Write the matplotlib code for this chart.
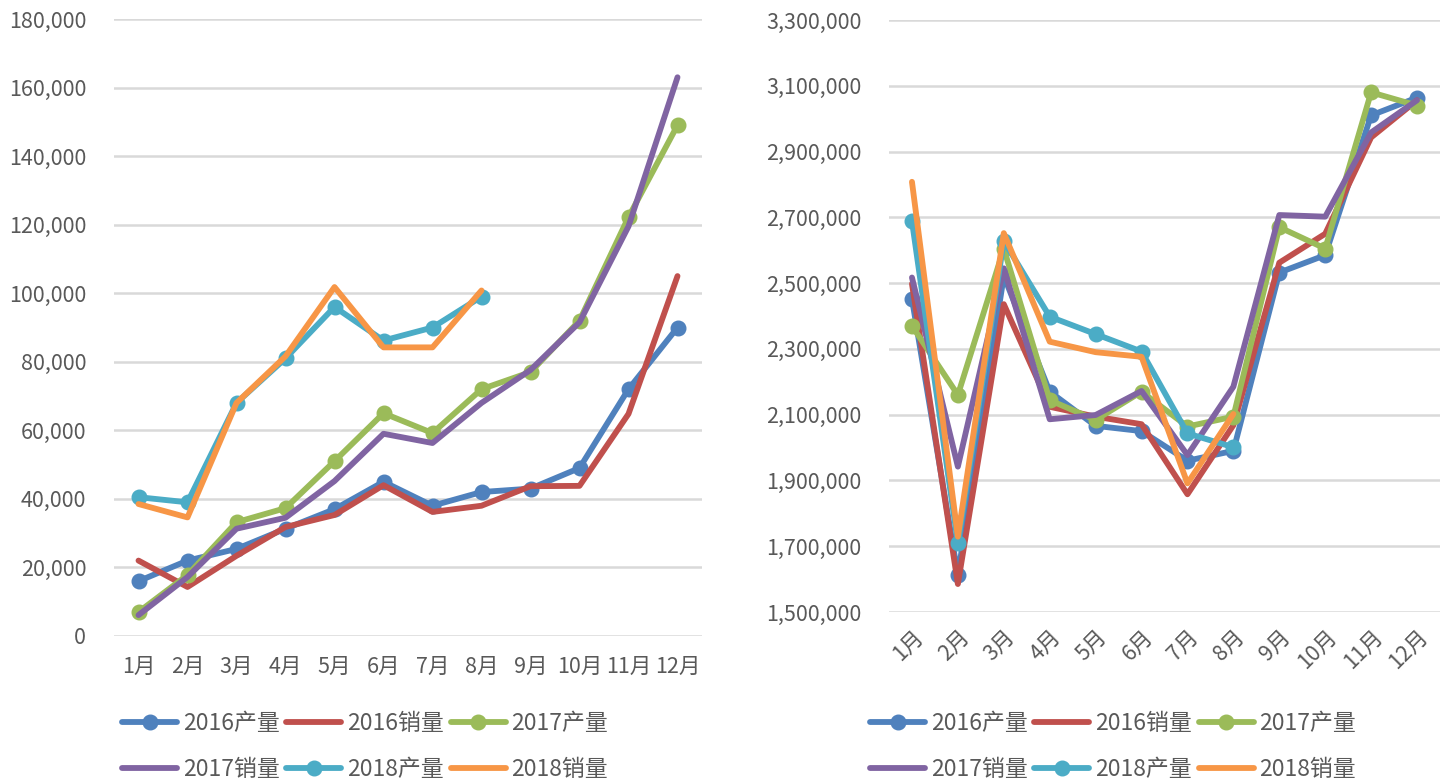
import matplotlib
matplotlib.use('Agg')
import matplotlib.pyplot as plt
from matplotlib.ticker import FuncFormatter
from matplotlib.lines import Line2D

plt.rcParams['font.family'] = ['Noto Sans CJK SC', 'DejaVu Sans']

months = ['1月', '2月', '3月', '4月', '5月', '6月', '7月', '8月', '9月', '10月', '11月', '12月']
series_names = ['2016产量', '2016销量', '2017产量', '2017销量', '2018产量', '2018销量']

# left chart
left_2016_prod = [16000, 22000, 25400, 31300, 37000, 45000, 38000, 42000, 43000, 49000, 72000, 90000]
left_2016_sales = [22000, 14300, 23400, 31800, 35300, 44000, 36200, 38000, 43700, 43800, 64800, 105000]
left_2017_prod = [7000, 17800, 33200, 37300, 51000, 65000, 59200, 72000, 77000, 92000, 122200, 149000]
left_2017_sales = [6100, 17200, 31300, 34500, 45200, 59000, 56300, 68000, 77600, 91500, 119500, 163000]
left_2018_prod = [40500, 39000, 68000, 81000, 96000, 86200, 90000, 99000]
left_2018_sales = [38500, 34600, 68000, 81600, 101800, 84200, 84200, 100800]

# right chart
right_2016_prod = [2452000, 1612000, 2522000, 2170000, 2066000, 2050000, 1960000, 1990000, 2532000, 2585000, 3010000, 3064000]
right_2016_sales = [2498000, 1585000, 2436000, 2124000, 2094000, 2071000, 1858000, 2068000, 2562000, 2650000, 2943000, 3056000]
right_2017_prod = [2370000, 2160000, 2605000, 2144000, 2084000, 2170000, 2064000, 2094000, 2670000, 2605000, 3080000, 3040000]
right_2017_sales = [2517000, 1942000, 2545000, 2086000, 2099000, 2172000, 1977000, 2185000, 2707000, 2702000, 2958000, 3056000]
right_2018_prod = [2689000, 1709000, 2628000, 2398000, 2345000, 2292000, 2043000, 2001000]
right_2018_sales = [2808000, 1729000, 2652000, 2322000, 2290000, 2276000, 1891000, 2102000]

colors = ['#4F81BD', '#C0504D', '#9BBB59', '#8064A2', '#4BACC6', '#F79646']
has_marker = [True, False, True, False, True, False]
text_color = '#595959'
grid_color = '#D9D9D9'

fig = plt.figure(figsize=(14.46, 7.8), dpi=100)
W, H = 1446, 780
ax1 = fig.add_axes([114 / W, 1 - 636 / H, (702 - 114) / W, (636 - 19) / H])
ax2 = fig.add_axes([889 / W, 1 - 612 / H, (1440 - 889) / W, (612 - 20) / H])

fmt = FuncFormatter(lambda v, p: f'{int(v):,}')


def draw(ax, data):
    for vals, c, m in zip(data, colors, has_marker):
        x = list(range(len(vals)))
        ax.plot(x, vals, color=c, lw=4.2, solid_capstyle='round', solid_joinstyle='round',
                marker='o' if m else None, markersize=10.5, zorder=3)
    for s in ax.spines.values():
        s.set_visible(False)
    ax.yaxis.grid(True, color=grid_color, lw=1.8, zorder=0)
    ax.set_axisbelow(True)
    ax.tick_params(length=0, colors=text_color, labelsize=15.5)
    ax.yaxis.set_major_formatter(fmt)
    ax.set_xticks(range(12))


left_data = [left_2016_prod, left_2016_sales, left_2017_prod, left_2017_sales, left_2018_prod, left_2018_sales]
right_data = [right_2016_prod, right_2016_sales, right_2017_prod, right_2017_sales, right_2018_prod, right_2018_sales]

draw(ax1, left_data)
ax1.set_ylim(0, 180000)
ax1.set_yticks(range(0, 180001, 20000))
ax1.set_xlim(-0.5, 11.5)
ax1.set_xticklabels(months)
ax1.tick_params(axis='y', pad=20)
ax1.tick_params(axis='x', pad=14)

draw(ax2, right_data)
ax2.set_ylim(1500000, 3300000)
ax2.set_yticks(range(1500000, 3300001, 200000))
ax2.set_xlim(-0.5, 11.5)
ax2.set_xticklabels(months, rotation=45, ha='right', rotation_mode='anchor')
ax2.tick_params(axis='y', pad=20)
ax2.tick_params(axis='x', pad=10)

handles = [Line2D([], [], color=c, lw=4.2, solid_capstyle='round',
                  marker='o' if m else None, markersize=10.5)
           for c, m in zip(colors, has_marker)]

# legend fills column by column; reorder so rows read left to right
order = [0, 3, 1, 4, 2, 5]
for x0 in (122 / W, 870 / W):
    leg = fig.legend([handles[i] for i in order], [series_names[i] for i in order],
                     loc='upper left', bbox_to_anchor=(x0, 1 - 712 / H),
                     ncol=3, frameon=False, fontsize=16.5, handlelength=2.4, handletextpad=0.25,
                     columnspacing=0.3, labelspacing=1.0, borderaxespad=0, borderpad=0)
    for t in leg.get_texts():
        t.set_color(text_color)

fig.savefig('out.png', dpi=100)
